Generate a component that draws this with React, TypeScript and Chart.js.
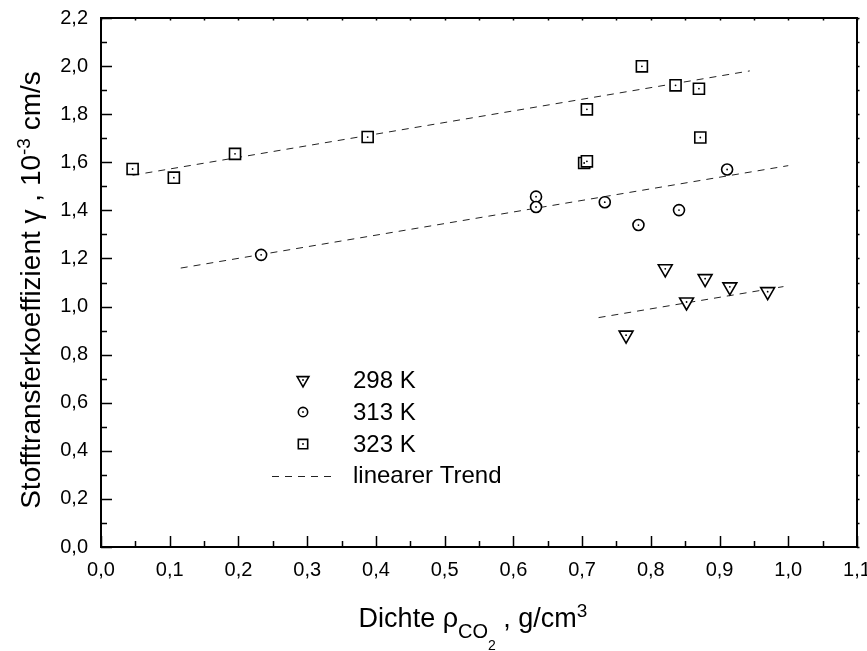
import React, { useEffect, useRef } from 'react';
import { Chart, registerables } from 'chart.js';
Chart.register(...registerables);

// 298 K
const x298 = [0.764, 0.821, 0.852, 0.879, 0.915, 0.970];
const y298 = [0.881, 1.157, 1.019, 1.116, 1.082, 1.062];
// 313 K
const x313 = [0.233, 0.633, 0.633, 0.733, 0.782, 0.841, 0.911];
const y313 = [1.215, 1.457, 1.414, 1.434, 1.339, 1.401, 1.570];
// 323 K
const x323 = [0.046, 0.106, 0.195, 0.388, 0.703, 0.707, 0.707, 0.787, 0.836, 0.870, 0.872];
const y323 = [1.572, 1.536, 1.635, 1.705, 1.597, 1.604, 1.820, 1.999, 1.920, 1.906, 1.703];
// linear trends
const trendX298 = [0.724, 0.993];
const trendY298 = [0.954, 1.083];
const trendX313 = [0.116, 1.0];
const trendY313 = [1.160, 1.586];
const trendX323 = [0.046, 0.944];
const trendY323 = [1.546, 1.980];

const legendLabels = ['298 K', '313 K', '323 K', 'linearer Trend'];
const xTitleParts = ['Dichte ρ', 'CO', '2', ' , g/cm', '3'];
const yTitleParts = ['Stofftransferkoeffizient γ , 10', '-3', ' cm/s'];

const FONT = '"Liberation Sans", Arial, sans-serif';

const pts = (xs: number[], ys: number[]) => xs.map((x, i) => ({ x, y: ys[i] }));
const fmt = (v: number) => v.toFixed(1).replace('.', ',');

function drawMarker(ctx: CanvasRenderingContext2D, style: string, x: number, y: number, s: number) {
  ctx.save();
  ctx.beginPath();
  if (style === 'tri') {
    const r = 8 * s;
    ctx.moveTo(x, y + r);
    ctx.lineTo(x - r * Math.sqrt(3) / 2, y - r / 2);
    ctx.lineTo(x + r * Math.sqrt(3) / 2, y - r / 2);
    ctx.closePath();
  } else if (style === 'circ') {
    ctx.arc(x, y, 5.5 * s, 0, Math.PI * 2);
  } else {
    const h = 5.5 * s;
    ctx.rect(x - h, y - h, 2 * h, 2 * h);
  }
  ctx.fillStyle = '#fff';
  ctx.fill();
  ctx.lineWidth = 1.6;
  ctx.strokeStyle = '#000';
  ctx.stroke();
  ctx.beginPath();
  ctx.arc(x, y, 0.9, 0, Math.PI * 2);
  ctx.fillStyle = '#000';
  ctx.fill();
  ctx.restore();
}

const decorPlugin = {
  id: 'decor',
  afterDatasetsDraw(chart: any) {
    const ctx = chart.ctx;
    chart.data.datasets.forEach((ds: any, i: number) => {
      if (ds.type === 'line') return;
      const meta = chart.getDatasetMeta(i);
      meta.data.forEach((el: any) => {
        ctx.save();
        ctx.beginPath();
        ctx.arc(el.x, el.y, 0.9, 0, Math.PI * 2);
        ctx.fillStyle = '#000';
        ctx.fill();
        ctx.restore();
      });
    });
  },
  afterDraw(chart: any) {
    const ctx = chart.ctx as CanvasRenderingContext2D;
    const { left, right, top, bottom } = chart.chartArea;
    const xs = chart.scales.x;
    const ys = chart.scales.y;
    ctx.save();
    ctx.strokeStyle = '#000';
    ctx.lineWidth = 2;
    ctx.strokeRect(left, top, right - left, bottom - top);
    ctx.lineWidth = 1.5;
    for (let k = 0; k <= 22; k++) {
      const v = k * 0.05;
      const px = Math.round(xs.getPixelForValue(v)) + 0.5;
      const major = k % 2 === 0;
      ctx.beginPath();
      ctx.moveTo(px, bottom);
      ctx.lineTo(px, bottom - (major ? 11 : 6));
      ctx.moveTo(px, top);
      ctx.lineTo(px, top + 2.5);
      ctx.stroke();
    }
    for (let k = 0; k <= 22; k++) {
      const v = k * 0.1;
      const py = Math.round(ys.getPixelForValue(v)) + 0.5;
      const major = k % 2 === 0;
      ctx.beginPath();
      ctx.moveTo(left, py);
      ctx.lineTo(left + (major ? 11 : 6), py);
      ctx.moveTo(right, py);
      ctx.lineTo(right + 2.5, py);
      ctx.stroke();
    }
    ctx.restore();

    // legend
    ctx.save();
    ctx.fillStyle = '#000';
    ctx.font = `24px ${FONT}`;
    ctx.textBaseline = 'alphabetic';
    const baselines = [388, 420, 452, 483];
    const styles = ['tri', 'circ', 'rect'];
    for (let i = 0; i < 3; i++) {
      drawMarker(ctx, styles[i], 303, baselines[i] - 8, 0.85);
      ctx.fillStyle = '#000';
      ctx.fillText(legendLabels[i], 353, baselines[i]);
    }
    ctx.beginPath();
    ctx.setLineDash([7, 6]);
    ctx.lineWidth = 1;
    ctx.strokeStyle = '#222';
    ctx.moveTo(272, 476.5);
    ctx.lineTo(334, 476.5);
    ctx.stroke();
    ctx.setLineDash([]);
    ctx.fillText(legendLabels[3], 353, baselines[3]);
    ctx.restore();

    // x title
    ctx.save();
    ctx.fillStyle = '#000';
    ctx.textBaseline = 'alphabetic';
    const xp = [
      { t: xTitleParts[0], f: 27, dy: 0 },
      { t: xTitleParts[1], f: 20, dy: 11 },
      { t: xTitleParts[2], f: 14, dy: 23 },
      { t: xTitleParts[3], f: 27, dy: 0 },
      { t: xTitleParts[4], f: 19, dy: -10 },
    ];
    let total = 0;
    xp.forEach((p) => { ctx.font = `${p.f}px ${FONT}`; total += ctx.measureText(p.t).width; });
    let cx = 473 - total / 2;
    const by = 627;
    xp.forEach((p) => {
      ctx.font = `${p.f}px ${FONT}`;
      ctx.fillText(p.t, cx, by + p.dy);
      cx += ctx.measureText(p.t).width;
    });
    ctx.restore();

    // y title
    ctx.save();
    ctx.fillStyle = '#000';
    ctx.textBaseline = 'alphabetic';
    ctx.translate(40, 290);
    ctx.rotate(-Math.PI / 2);
    const yp = [
      { t: yTitleParts[0], f: 28, dy: 0 },
      { t: yTitleParts[1], f: 19, dy: -10 },
      { t: yTitleParts[2], f: 28, dy: 0 },
    ];
    let ytot = 0;
    yp.forEach((p) => { ctx.font = `${p.f}px ${FONT}`; ytot += ctx.measureText(p.t).width; });
    let cy = -ytot / 2;
    yp.forEach((p) => {
      ctx.font = `${p.f}px ${FONT}`;
      ctx.fillText(p.t, cy, p.dy);
      cy += ctx.measureText(p.t).width;
    });
    ctx.restore();
  },
};

export default function App() {
  const ref = useRef<HTMLCanvasElement>(null);
  useEffect(() => {
    if (!ref.current) return;
    const markerCommon = {
      borderColor: '#000',
      backgroundColor: '#fff',
      borderWidth: 1.6,
      showLine: false,
      order: 0,
    };
    const trendCommon = {
      type: 'line' as const,
      borderColor: '#222',
      borderWidth: 1,
      borderDash: [7, 6],
      pointRadius: 0,
      fill: false,
      order: 1,
    };
    const chart = new Chart(ref.current, {
      type: 'scatter',
      data: {
        datasets: [
          { ...trendCommon, label: 'trend 323', data: pts(trendX323, trendY323) },
          { ...trendCommon, label: 'trend 313', data: pts(trendX313, trendY313) },
          { ...trendCommon, label: 'trend 298', data: pts(trendX298, trendY298) },
          { ...markerCommon, label: '298 K', data: pts(x298, y298), pointStyle: 'triangle', rotation: 180, pointRadius: 8 },
          { ...markerCommon, label: '313 K', data: pts(x313, y313), pointStyle: 'circle', pointRadius: 5.5 },
          { ...markerCommon, label: '323 K', data: pts(x323, y323), pointStyle: 'rect', pointRadius: 7.8 },
        ] as any,
      },
      options: {
        animation: false,
        responsive: false,
        devicePixelRatio: 1,
        events: [],
        layout: { padding: { left: 0, top: 18, right: 10, bottom: 0 } },
        plugins: { legend: { display: false }, tooltip: { enabled: false }, title: { display: false } },
        scales: {
          x: {
            type: 'linear',
            min: 0,
            max: 1.1,
            grid: { display: false, drawTicks: false },
            border: { display: false },
            ticks: {
              stepSize: 0.1,
              padding: 11,
              color: '#000',
              font: { family: FONT, size: 20 },
              maxRotation: 0,
              callback: (v: any) => fmt(Number(v)),
            },
            afterFit: (s: any) => { s.height = 104; s.paddingLeft = 0; s.paddingRight = 0; },
          },
          y: {
            type: 'linear',
            min: 0,
            max: 2.2,
            grid: { display: false, drawTicks: false },
            border: { display: false },
            ticks: {
              stepSize: 0.2,
              padding: 13,
              color: '#000',
              font: { family: FONT, size: 20 },
              callback: (v: any) => fmt(Number(v)),
            },
            afterFit: (s: any) => { s.width = 101; s.paddingTop = 0; s.paddingBottom = 0; },
          },
        },
      },
      plugins: [decorPlugin],
    } as any);
    return () => chart.destroy();
  }, []);
  return (
    <div style={{ position: 'absolute', left: 0, top: 0, width: 867, height: 651, background: '#fff' }}>
      <canvas ref={ref} width={867} height={651} style={{ display: 'block', width: 867, height: 651 }} />
    </div>
  );
}
